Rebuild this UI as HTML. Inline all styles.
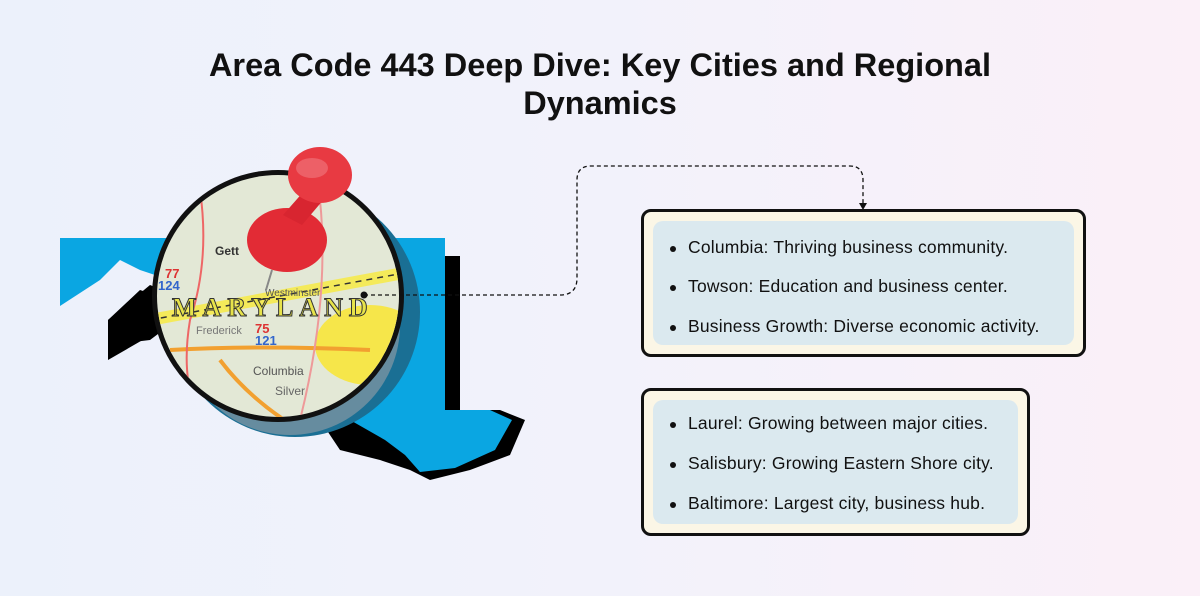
<!DOCTYPE html>
<html><head><meta charset="utf-8"><style>
body{margin:0;width:1200px;height:596px;overflow:hidden;background:linear-gradient(90deg,#ecf1fb 0%,#f2f2fb 50%,#fbf0f8 100%);font-family:"Liberation Sans",sans-serif;position:relative}
h1{position:absolute;top:46px;left:0;width:1200px;text-align:center;margin:0;font-size:32.5px;line-height:38px;font-weight:bold;color:#111}
.box{position:absolute;border:3px solid #111;border-radius:10px;background:#fbf6e6;box-sizing:border-box}
.in{position:absolute;left:9px;top:9px;right:9px;bottom:9px;background:#dbe9ef;border-radius:10px}
.li{position:absolute;left:24px;font-size:17.5px;letter-spacing:0.2px;color:#111;white-space:nowrap}
.li:before{content:"";position:absolute;left:-18px;top:9px;width:6px;height:6px;border-radius:50%;background:#111}
</style></head><body>
<h1>Area Code 443 Deep Dive: Key Cities and Regional<br>Dynamics</h1>
<svg width="1200" height="596" style="position:absolute;left:0;top:0">
<polygon points="108,320 150,285 175,295 200,260 230,260 240,250 300,250 420,250 420,256 460,256 460,410 500,410 525,420 510,455 470,470 430,480 410,470 380,460 340,450 320,420 300,400 260,390 220,360 160,330 108,360" fill="#000"/>
<polygon points="60,238 445,238 445,410 490,410 512,420 495,450 455,468 420,472 405,455 385,440 350,420 330,395 300,380 270,360 230,330 200,300 170,280 140,270 120,260 100,280 60,306" fill="#0aa6e2"/>
<polygon points="108,320 140,290 170,300 185,270 200,280 210,295 150,340 108,345" fill="#000"/>
<circle cx="295" cy="312" r="125" fill="#1a6f94"/>
<circle cx="290" cy="325" r="110" fill="#9aa0a6" opacity=".6"/>
<circle cx="278" cy="296" r="126" fill="#111"/>
<circle cx="278" cy="296" r="121" fill="#e3e8d6"/>
<clipPath id="c"><circle cx="278" cy="296" r="121"/></clipPath>
<g clip-path="url(#c)" font-family="Liberation Serif" font-weight="bold">
<ellipse cx="370" cy="345" rx="55" ry="40" fill="#f6e64a"/>
<path d="M150 320 L420 270" stroke="#f4ea5a" stroke-width="12"/>
<path d="M150 320 L420 270" stroke="#333" stroke-width="1.5" stroke-dasharray="6 5"/>
<path d="M170 350 Q260 345 370 350" stroke="#f2a030" stroke-width="4" fill="none"/>
<path d="M220 360 Q250 400 300 430" stroke="#f2a030" stroke-width="4" fill="none"/>
<path d="M200 190 Q210 260 190 320 Q180 380 200 420" stroke="#e66" stroke-width="2" fill="none"/>
<path d="M320 200 Q330 300 300 420" stroke="#e99" stroke-width="2" fill="none"/>
<text x="172" y="316" font-size="26" fill="#e7e34a" stroke="#333" stroke-width="1" letter-spacing="6">MARYLAND</text>
<text x="196" y="334" font-size="11" fill="#777" font-family="Liberation Sans" font-weight="normal">Frederick</text>
<text x="255" y="333" font-size="13" fill="#d33" font-family="Liberation Sans">75</text>
<text x="255" y="345" font-size="13" fill="#36c" font-family="Liberation Sans">121</text>
<text x="253" y="375" font-size="12" fill="#555" font-family="Liberation Sans" font-weight="normal">Columbia</text>
<text x="275" y="395" font-size="12" fill="#666" font-family="Liberation Sans" font-weight="normal">Silver</text>
<text x="165" y="278" font-size="13" fill="#d33" font-family="Liberation Sans">77</text>
<text x="158" y="290" font-size="13" fill="#36c" font-family="Liberation Sans">124</text>
<text x="215" y="255" font-size="12" fill="#333" font-family="Liberation Sans">Gett</text>
<text x="265" y="296" font-size="10" fill="#555" font-family="Liberation Sans" font-weight="normal">Westminster</text>
</g>
<line x1="272" y1="270" x2="266" y2="290" stroke="#888" stroke-width="2"/>
<ellipse cx="287" cy="240" rx="40" ry="32" fill="#e22b35"/>
<polygon points="283,215 312,182 330,192 302,225" fill="#d82530"/>
<ellipse cx="320" cy="175" rx="32" ry="28" fill="#e83a42"/>
<ellipse cx="312" cy="168" rx="16" ry="10" fill="#f07a80" opacity=".6"/>
<circle cx="364" cy="295" r="3.5" fill="#111"/>
<path d="M364 295 H560 Q577 295 577 278 V180 Q577 166 591 166 H850 Q863 166 863 180 V205" stroke="#111" stroke-width="1.3" stroke-dasharray="4 3" fill="none"/>
<polygon points="859,203 867,203 863,210" fill="#111"/>
</svg>
<div class="box" style="left:641px;top:209px;width:445px;height:148px"><div class="in"></div>
<div class="li" style="left:44px;top:25px">Columbia: Thriving business community.</div>
<div class="li" style="left:44px;top:64px">Towson: Education and business center.</div>
<div class="li" style="left:44px;top:104px">Business Growth: Diverse economic activity.</div></div>
<div class="box" style="left:641px;top:388px;width:389px;height:148px"><div class="in"></div>
<div class="li" style="left:44px;top:22px">Laurel: Growing between major cities.</div>
<div class="li" style="left:44px;top:62px">Salisbury: Growing Eastern Shore city.</div>
<div class="li" style="left:44px;top:102px">Baltimore: Largest city, business hub.</div></div>
</body></html>
